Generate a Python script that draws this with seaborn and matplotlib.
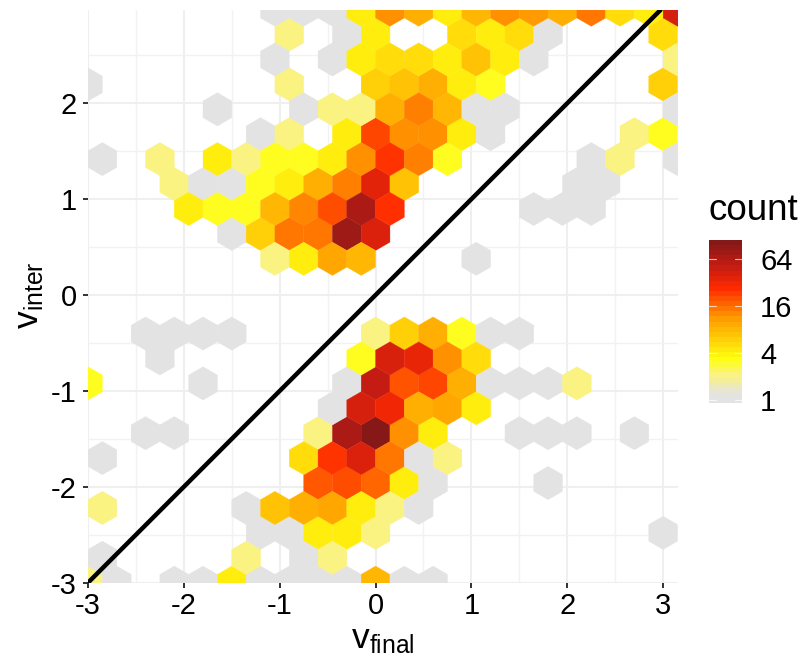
import numpy as np
import pandas as pd
import matplotlib
matplotlib.use("Agg")
import matplotlib.pyplot as plt
from matplotlib.colors import LinearSegmentedColormap, LogNorm
from matplotlib.cm import ScalarMappable
import seaborn as sns

# Hexagon bins: one entry per row of the lattice, bottom to top.
hex_cols = [
    [0, 1, 3, 4, 5, 6, 7, 8, 9, 10, 11, 12],
    [0, 5, 7, 8],
    [6, 7, 8, 9, 10, 20],
    [0, 5, 6, 7, 8, 9, 10, 11],
    [8, 9, 10, 11, 12, 16],
    [0, 7, 8, 9, 10, 11, 12],
    [2, 3, 8, 9, 10, 11, 12, 15, 16, 17, 19],
    [8, 9, 10, 11, 12, 13],
    [0, 4, 9, 10, 11, 12, 13, 14, 15, 16, 17],
    [2, 9, 10, 11, 12, 13],
    [2, 3, 4, 5, 10, 11, 12, 13, 14, 15],
    [],
    [],
    [6, 7, 8, 9, 13],
    [5, 6, 7, 8, 9, 10],
    [3, 4, 5, 6, 7, 8, 9, 10, 15, 16, 17],
    [3, 4, 5, 6, 7, 8, 9, 10, 11, 17, 18],
    [0, 2, 4, 5, 6, 7, 8, 9, 10, 11, 12, 17, 18, 20],
    [6, 7, 9, 10, 11, 12, 13, 14, 19, 20],
    [4, 7, 8, 9, 10, 11, 12, 13, 14, 20],
    [0, 7, 10, 11, 12, 13, 14, 20],
    [6, 8, 9, 10, 11, 12, 13, 14, 15, 20],
    [7, 9, 10, 13, 14, 15, 16, 20],
    [6, 7, 8, 9, 10, 11, 12, 13, 14, 15, 16, 17, 18, 19, 20],
]
hex_counts = [
    [2, 1, 1, 1, 4, 1, 1, 1, 1, 8, 1, 1],
    [1, 2, 1, 2],
    [1, 1, 4, 4, 2, 1],
    [2, 1, 7, 9, 10, 4, 2, 1],
    [19, 21, 17, 4, 1, 1],
    [1, 5, 26, 42, 15, 1, 2],
    [1, 1, 2, 72, 110, 12, 4, 1, 1, 1, 1],
    [1, 45, 33, 9, 10, 4],
    [3, 1, 1, 55, 20, 22, 9, 1, 1, 1, 2],
    [1, 3, 44, 36, 12, 5],
    [1, 1, 1, 1, 2, 6, 9, 3, 1, 1],
    [],
    [],
    [2, 4, 10, 8, 1],
    [1, 6, 15, 15, 85, 42],
    [4, 3, 3, 8, 13, 21, 72, 27, 1, 1, 1],
    [2, 1, 1, 3, 4, 9, 14, 38, 7, 1, 1],
    [1, 2, 4, 2, 3, 3, 4, 12, 26, 14, 3, 1, 2, 1],
    [1, 2, 4, 22, 12, 12, 4, 1, 2, 3],
    [1, 1, 2, 2, 9, 14, 8, 1, 1, 1],
    [1, 2, 6, 7, 9, 4, 3, 6],
    [1, 1, 4, 5, 5, 4, 7, 4, 1, 2],
    [2, 1, 4, 5, 4, 5, 1, 5],
    [1, 1, 1, 4, 12, 9, 4, 8, 12, 11, 9, 15, 5, 4, 45],
]
legend_ticks = [1, 4, 16, 64]
axis_ticks = [-3, -2, -1, 0, 1, 2, 3]
color_stops = [(0.0, "#e3e3e3"), (0.04, "#e3e3e3"), (0.162, "#faf280"), (0.26, "#ffff10"),
               (0.5, "#ffa500"), (0.71, "#ff2a00"), (0.85, "#c41c12"), (1.0, "#851818")]

BIN_W = 0.3
ROW_H = BIN_W * np.sqrt(3) / 2
X0, Y0 = -3.0, -3.0

rows = []
for k, (cols, cnts) in enumerate(zip(hex_cols, hex_counts)):
    for j, c in zip(cols, cnts):
        rows.append({"v_final": X0 + BIN_W * j + (BIN_W / 2 if k % 2 else 0),
                     "v_inter": Y0 + ROW_H * k, "count": c})
df = pd.DataFrame(rows)

sns.set_theme(style="white")
plt.rcParams.update({
    "font.family": ["Liberation Sans", "DejaVu Sans"],
    "mathtext.fontset": "custom",
    "mathtext.rm": "Liberation Sans",
    "mathtext.default": "rm",
    "axes.unicode_minus": False,
})

W, H = 806, 656
fig = plt.figure(figsize=(W / 100, H / 100), dpi=100, facecolor="white")
ax = fig.add_axes([88 / W, (H - 582.7) / H, 590 / W, 572.7 / H])

cmap = LinearSegmentedColormap.from_list("heat", color_stops, N=256)
norm = LogNorm(vmin=0.915, vmax=113)

ax.set_axisbelow(True)
ax.hexbin(df["v_final"], df["v_inter"], C=df["count"], reduce_C_function=np.sum,
          gridsize=(21, 12), extent=(X0, X0 + 21 * BIN_W, Y0, Y0 + 24 * ROW_H),
          cmap=cmap, norm=norm, linewidths=0.25, edgecolors="face", zorder=2)
ax.axline((0, 0), slope=1, color="black", lw=3.2, zorder=3)

ax.set_xlim(-3, 3.155)
ax.set_ylim(-3, 2.972)
ax.set_aspect("auto")
ax.set_xticks(axis_ticks)
ax.set_yticks(axis_ticks[:-1])
ax.set_xticklabels([str(t) for t in axis_ticks])
ax.set_yticklabels([str(t) for t in axis_ticks[:-1]])
ax.set_xticks(np.arange(-2.5, 3.1, 1), minor=True)
ax.set_yticks(np.arange(-2.5, 2.6, 1), minor=True)
ax.grid(True, which="major", color="#efefef", lw=1.5)
ax.grid(True, which="minor", color="#f2f2f2", lw=1.0)
ax.tick_params(which="major", axis="both", length=3.5, width=1.3, color="#222222",
               labelsize=21, labelcolor="black", pad=3.5, bottom=True, left=True)
ax.tick_params(which="major", axis="y", pad=4.5)
ax.tick_params(which="minor", length=0)
sns.despine(ax=ax, left=True, bottom=True, top=True, right=True)

fig.text(383 / W, 1 - 639 / H, r"$\mathrm{v}_{\mathrm{final}}$", fontsize=25.5,
         ha="center", va="center", color="black")
fig.text(30 / W, 1 - 295 / H, r"$\mathrm{v}_{\mathrm{inter}}$", fontsize=25.5,
         ha="center", va="center", rotation=90, color="black")

cax = fig.add_axes([709 / W, (H - 403) / H, 33 / W, 163 / H])
sm = ScalarMappable(norm=norm, cmap=cmap.resampled(32))
cbar = fig.colorbar(sm, cax=cax, ticks=legend_ticks)
cbar.set_ticklabels([str(t) for t in legend_ticks])
cbar.ax.minorticks_off()
cbar.outline.set_visible(False)
cbar.ax.tick_params(length=0, labelsize=21, pad=13, labelcolor="black")
for t in legend_ticks:
    cbar.ax.plot([0, 0.2], [t, t], color="white", lw=0.8, alpha=0.7,
                 transform=cbar.ax.get_yaxis_transform())
    cbar.ax.plot([0.8, 1], [t, t], color="white", lw=0.8, alpha=0.7,
                 transform=cbar.ax.get_yaxis_transform())
fig.text(709 / W, 1 - 220 / H, "count", fontsize=26.5, ha="left", va="baseline", color="black")

fig.savefig("out.png", dpi=100)
